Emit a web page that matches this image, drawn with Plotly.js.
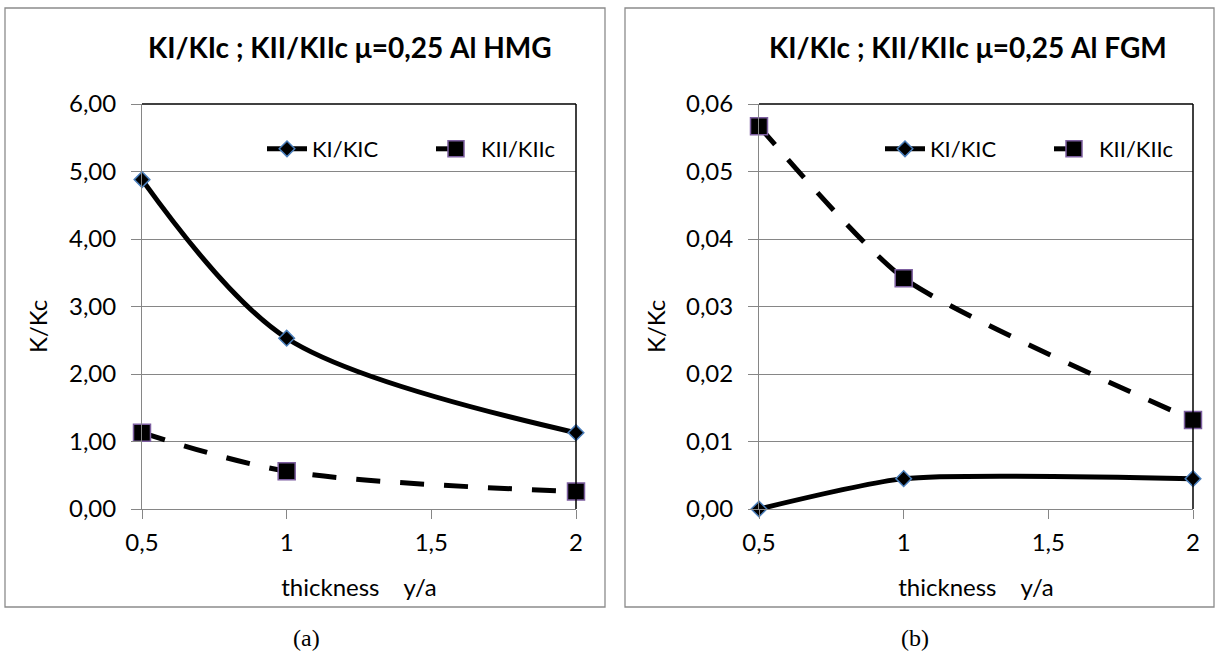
<!DOCTYPE html>
<html>
<head>
<meta charset="utf-8">
<script src="https://cdn.plot.ly/plotly-3.0.1.min.js"></script>
<style>
  html, body { margin: 0; padding: 0; background: #ffffff; overflow: hidden; width: 1219px; height: 655px; }
  #chart { width: 1219px; height: 655px; overflow: hidden; }
</style>
</head>
<body>
<div id="chart"></div>
<script>
// ---- data ----
const thickness = [0.5, 1, 2];
const xTickVals = [0.5, 1, 1.5, 2];
const hmgKI  = [4.88, 2.53, 1.13];
const hmgKII = [1.13, 0.56, 0.26];
const fgmKI  = [0.0, 0.0045, 0.0045];
const fgmKII = [0.0567, 0.0342, 0.0132];
const seriesNames = ['KI/KIC', 'KII/KIIc'];
const panelTitles = ['KI/KIc ; KII/KIIc μ=0,25 Al HMG', 'KI/KIc ; KII/KIIc μ=0,25 Al FGM'];
const panelLabels = ['(a)', '(b)'];
const yTitle = 'K/Kc';
const xTitle = 'thickness\u00a0\u00a0\u00a0\u00a0y/a';

// ---- layout helpers (pixel -> paper) ----
const W = 1219, H = 655;
const px = v => v / W;
const py = v => 1 - v / H;
const FONT = 'Lato, "Open Sans", sans-serif';
const FS = 24;

function kiTrace(x, y, xa, ya, legend, smooth) {
  return {
    x: x, y: y, xaxis: xa, yaxis: ya, name: seriesNames[0], legend: legend,
    type: 'scatter', mode: 'lines+markers', cliponaxis: false,
    line: { color: '#000000', width: 5, shape: 'spline', smoothing: smooth },
    marker: { symbol: 'diamond', size: 12, color: '#000000', line: { color: '#4a7ebb', width: 1.5 } }
  };
}
function kiiTrace(x, y, xa, ya, legend, smooth) {
  return {
    x: x, y: y, xaxis: xa, yaxis: ya, name: seriesNames[1], legend: legend,
    type: 'scatter', mode: 'lines+markers', cliponaxis: false,
    line: { color: '#000000', width: 5, shape: 'spline', smoothing: smooth, dash: '24px,20px' },
    marker: { symbol: 'square', size: 17, color: '#000000', line: { color: '#7d5fa0', width: 1.5 } }
  };
}

const data = [
  kiTrace(thickness, hmgKI, 'x', 'y', 'legend', 0.9),
  kiiTrace(thickness, hmgKII, 'x', 'y', 'legend', 0.9),
  kiTrace(thickness, fgmKI, 'x2', 'y2', 'legend2', 0.6),
  kiiTrace(thickness, fgmKII, 'x2', 'y2', 'legend2', 0.6)
];

const yDom = [py(509), py(104)];
function xAxis(domain, anchor) {
  return {
    domain: domain, anchor: anchor, range: [0.5, 2], tickvals: xTickVals,
    showgrid: false, zeroline: false, showline: true, linecolor: '#868686', linewidth: 1,
    ticks: 'outside', ticklen: 9, tickcolor: '#868686', ticklabelstandoff: 3,
    tickfont: { family: FONT, size: FS, color: '#000' },
    title: { text: xTitle, font: { family: FONT, size: FS, color: '#000' }, standoff: 24 }
  };
}
function yAxis(anchor, range, dtick) {
  return {
    domain: yDom, anchor: anchor, range: range, dtick: dtick, tick0: 0, tickformat: '.2f',
    showgrid: true, gridcolor: '#868686', gridwidth: 1, zeroline: false,
    showline: true, linecolor: '#868686', linewidth: 1,
    ticks: 'outside', ticklen: 10, tickcolor: '#868686', ticklabelstandoff: 10,
    tickfont: { family: FONT, size: FS, color: '#000' }
  };
}

function legendAt(xpx) {
  return {
    orientation: 'h', x: px(xpx), xanchor: 'left', y: py(149), yanchor: 'middle',
    bgcolor: 'rgba(0,0,0,0)', font: { family: FONT, size: 22, color: '#000' },
    itemwidth: 40, entrywidth: 114, entrywidthmode: 'pixels', tracegroupgap: 0
  };
}

const shapes = [
  // panel frames
  { type: 'rect', xref: 'paper', yref: 'paper', x0: px(5), x1: px(605), y0: py(607), y1: py(8),
    line: { color: '#8c8c8c', width: 1.3 } },
  { type: 'rect', xref: 'paper', yref: 'paper', x0: px(625), x1: px(1214), y0: py(607), y1: py(8),
    line: { color: '#8c8c8c', width: 1.3 } },
  // plot-area outline (top + right) in black
  { type: 'line', xref: 'x domain', yref: 'y domain', x0: 0, x1: 1, y0: 1, y1: 1, line: { color: '#000', width: 1.5 } },
  { type: 'line', xref: 'x domain', yref: 'y domain', x0: 1, x1: 1, y0: 0, y1: 1, line: { color: '#000', width: 1.5 } },
  { type: 'line', xref: 'x2 domain', yref: 'y2 domain', x0: 0, x1: 1, y0: 1, y1: 1, line: { color: '#000', width: 1.5 } },
  { type: 'line', xref: 'x2 domain', yref: 'y2 domain', x0: 1, x1: 1, y0: 0, y1: 1, line: { color: '#000', width: 1.5 } }
];

function label(text, x, y, font, extra) {
  return Object.assign({ text: text, xref: 'paper', yref: 'paper', x: px(x), y: py(y),
    showarrow: false, xanchor: 'center', yanchor: 'middle', font: font }, extra || {});
}
const titleFont = { family: FONT, size: 28, color: '#000' };
const axisFont = { family: FONT, size: FS, color: '#000' };
const capFont = { family: '"Liberation Serif", "Times New Roman", serif', size: 24, color: '#000' };

const annotations = [
  label('<b>' + panelTitles[0] + '</b>', 350, 47, titleFont),
  label('<b>' + panelTitles[1] + '</b>', 968, 47, titleFont),
  label(yTitle, 37, 327, axisFont, { textangle: -90 }),
  label(yTitle, 655, 327, axisFont, { textangle: -90 }),
  label(panelLabels[0], 306, 638, capFont),
  label(panelLabels[1], 915, 638, capFont)
];

const layout = {
  width: W, height: H, margin: { l: 0, r: 0, t: 0, b: 0 },
  paper_bgcolor: '#ffffff', plot_bgcolor: '#ffffff',
  separators: ', ',
  font: { family: FONT, color: '#000' },
  xaxis: xAxis([px(142), px(576)], 'y'),
  yaxis: yAxis('x', [0, 6], 1),
  xaxis2: xAxis([px(759), px(1193)], 'y2'),
  yaxis2: yAxis('x2', [0, 0.06], 0.01),
  legend: legendAt(262),
  legend2: legendAt(880),
  shapes: shapes,
  annotations: annotations
};

Plotly.newPlot('chart', data, layout, { displayModeBar: false, staticPlot: true });
</script>
</body>
</html>
